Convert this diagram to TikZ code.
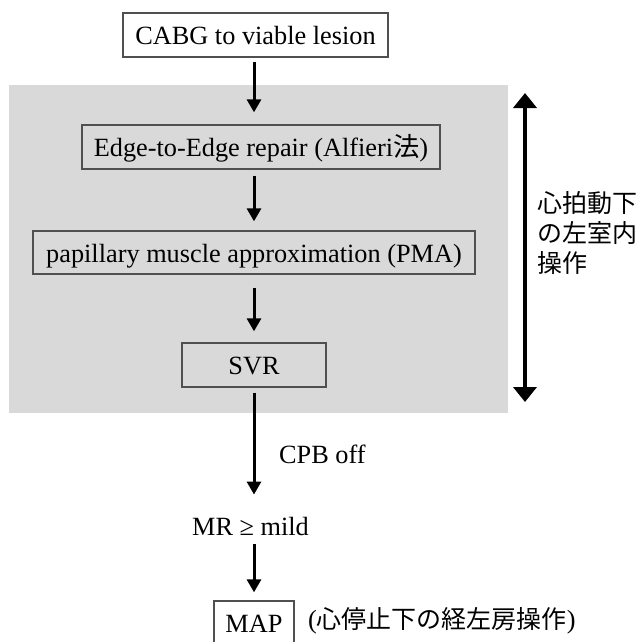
\documentclass[tikz,border=0pt]{standalone}
\usepackage{fontspec}
\setmainfont{Liberation Serif}
\newfontfamily\jpfont{Noto Sans CJK JP}
\usetikzlibrary{arrows.meta}
\definecolor{bggray}{RGB}{217,217,217}
\definecolor{boxline}{RGB}{80,80,80}

\tikzset{
  stepbox/.style={draw=boxline, line width=1.3pt, inner sep=0pt, minimum height=44pt,
                  text height=24pt, text depth=4.6pt},
  flow/.style={line width=3pt, -{Triangle[length=13pt,width=14pt]}},
  span/.style={line width=4pt, {Triangle[length=15pt,width=23pt]}-{Triangle[length=15pt,width=23pt]}},
}

\begin{document}
\begin{tikzpicture}[x=1pt, y=-1pt, font=\fontsize{26.3}{31}\selectfont]
\fill[white] (0,0) rectangle (643,642);
\useasboundingbox (0,0) rectangle (643,642);

% First the shaded block done on the beating heart
\fill[bggray] (9,85) rectangle (508,413);

% Now the steps
\node[stepbox, fill=white, minimum width=265pt] (cabg) at (255.5,35) {CABG to viable lesion};
\node[stepbox, minimum width=358pt] (edge) at (261,147) {Edge-to-Edge repair (Alfieri{\jpfont 法})};
\node[stepbox, minimum width=442pt, minimum height=43pt] (pma) at (254,252.5) {papillary muscle approximation (PMA)};
\node[stepbox, minimum width=144pt] (svr) at (254,365) {SVR};
\node[anchor=base west, inner sep=0pt] (cpb) at (279,463) {CPB off};
\node[anchor=base, inner sep=0pt] (mr) at (250.5,535) {MR ≥ mild};
\node[stepbox, fill=white, minimum width=80pt] (map) at (254,623) {MAP};
\node[anchor=west, inner sep=0pt] (mapnote) at (308,621)
  {({\jpfont\fontsize{25}{30}\selectfont 心停止下の経左房操作})};

% arrows between the steps
\draw[flow, shorten <=4pt, shorten >=12pt] (cabg.south -| svr.center) -- (edge.north -| svr.center);
\draw[flow, shorten <=6pt, shorten >=9pt] (edge.south -| svr.center) -- (pma.north);
\draw[flow, shorten <=13pt, shorten >=11pt] (pma.south) -- (svr.north);
\draw[flow, shorten <=5pt, shorten >=22pt] (svr.south) -- (mr.north -| svr.center);
\draw[flow, shorten <=9pt, shorten >=8pt] (mr.south -| svr.center) -- (map.north);

% now the span on the right
\coordinate (opTop) at (525,93);
\coordinate (opBot) at (525,402);
\draw[span] (opTop) -- (opBot);
\node[anchor=north west, align=left, inner sep=0pt,
      font=\jpfont\fontsize{25}{30}\selectfont] (beating) at (537,191) {心拍動下\\の左室内\\操作};
\end{tikzpicture}
\end{document}
